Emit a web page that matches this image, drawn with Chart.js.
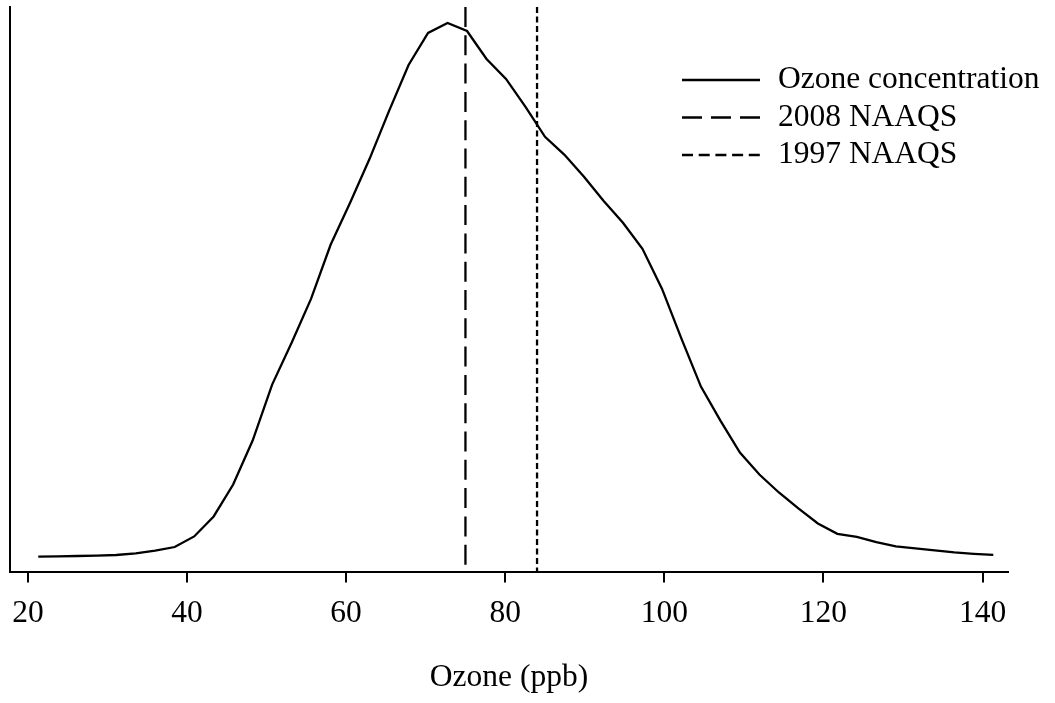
<!DOCTYPE html>
<html>
<head>
<meta charset="utf-8">
<script src="https://cdn.jsdelivr.net/npm/chart.js@4.4.0/dist/chart.umd.min.js"></script>
<style>
  html, body { margin: 0; padding: 0; background: #fff; }
</style>
</head>
<body>
<canvas id="grafico" width="1055" height="703"></canvas>
<script>
// datos
const ozono = [21.3, 23.75, 26.2, 28.65, 31.1, 33.55, 36.0, 38.45, 40.9, 43.35,
  45.8, 48.25, 50.7, 53.15, 55.6, 58.05, 60.5, 62.95, 65.4, 67.85,
  70.3, 72.75, 75.2, 77.65, 80.1, 82.55, 85.0, 87.45, 89.9, 92.35,
  94.8, 97.25, 99.7, 102.15, 104.6, 107.05, 109.5, 111.95, 114.4, 116.85,
  119.3, 121.75, 124.2, 126.65, 129.1, 131.55, 134.0, 136.45, 138.9, 141.35];
const densidad = [0.079, 0.080, 0.082, 0.084, 0.087, 0.095, 0.109, 0.127, 0.18, 0.28,
  0.44, 0.66, 0.94, 1.15, 1.37, 1.64, 1.85, 2.07, 2.31, 2.54,
  2.70, 2.75, 2.71, 2.57, 2.47, 2.33, 2.18, 2.09, 1.98, 1.86,
  1.75, 1.62, 1.42, 1.17, 0.93, 0.76, 0.60, 0.49, 0.40, 0.32,
  0.245, 0.193, 0.178, 0.152, 0.13, 0.12, 0.11, 0.10, 0.093, 0.088];
const naaqs2008 = 75;
const naaqs1997 = 84;
const etiquetasX = [20, 40, 60, 80, 100, 120, 140];
const nombresSeries = ["Ozone concentration", "2008 NAAQS", "1997 NAAQS"];
const tituloX = "Ozone (ppb)";
const rangoX = [17.74, 143.2];
const rangoY = [0, 2.83];

const fuente = '"Liberation Serif", "Times New Roman", serif';

//LEYENDA dibujada a mano dentro del area
const leyenda = {
  id: 'leyenda',
  afterDraw(chart) {
    const ctx = chart.ctx;
    chart.data.datasets.forEach((ds, i) => {
      const y = 80 + i * 37.5;
      ctx.save();
      ctx.strokeStyle = '#000';
      ctx.lineWidth = 2.3;
      ctx.setLineDash(ds.dashLeyenda);
      ctx.beginPath();
      ctx.moveTo(682, y);
      ctx.lineTo(760, y);
      ctx.stroke();
      ctx.setLineDash([]);
      ctx.fillStyle = '#000';
      ctx.font = '31.5px ' + fuente;
      ctx.textBaseline = 'middle';
      ctx.fillText(ds.label, 778, y);
      ctx.restore();
    });
  }
};

const lineaVertical = (x) => [{ x, y: rangoY[1] }, { x, y: rangoY[0] }];

new Chart(document.getElementById('grafico').getContext('2d'), {
  type: 'line',
  data: {
    datasets: [
      {
        label: nombresSeries[0],
        data: ozono.map((x, i) => ({ x, y: densidad[i] })),
        borderColor: '#000',
        borderWidth: 2.3,
        pointRadius: 0,
        tension: 0,
        dashLeyenda: []
      },
      {
        label: nombresSeries[1],
        data: lineaVertical(naaqs2008),
        borderColor: '#000',
        borderWidth: 2.3,
        borderDash: [20, 8.3],
        pointRadius: 0,
        dashLeyenda: [20, 9]
      },
      {
        label: nombresSeries[2],
        data: lineaVertical(naaqs1997),
        borderColor: '#000',
        borderWidth: 2.3,
        borderDash: [6, 3.5],
        pointRadius: 0,
        dashLeyenda: [11, 5.7]
      }
    ]
  },
  options: {
    responsive: false,
    animation: false,
    layout: { padding: { left: 1, top: 7, right: 47, bottom: 0 } },
    plugins: { legend: { display: false }, tooltip: { enabled: false } },
    scales: {
      x: {
        type: 'linear',
        min: rangoX[0],
        max: rangoX[1],
        afterBuildTicks: (escala) => { escala.ticks = etiquetasX.map(v => ({ value: v })); },
        grid: { display: true, drawOnChartArea: false, drawTicks: true, tickLength: 10, color: '#000', lineWidth: 2 },
        border: { display: true, color: '#000', width: 2 },
        ticks: { color: '#000', font: { family: fuente, size: 31.5 }, padding: 12, maxRotation: 0, autoSkip: false },
        title: { display: true, text: tituloX, color: '#000', font: { family: fuente, size: 31.5 }, padding: { top: 15, bottom: 6 } }
      },
      y: {
        min: rangoY[0],
        max: rangoY[1],
        grid: { display: false },
        border: { display: true, color: '#000', width: 2 },
        ticks: { display: false }
      }
    }
  },
  plugins: [leyenda]
});
</script>
</body>
</html>
